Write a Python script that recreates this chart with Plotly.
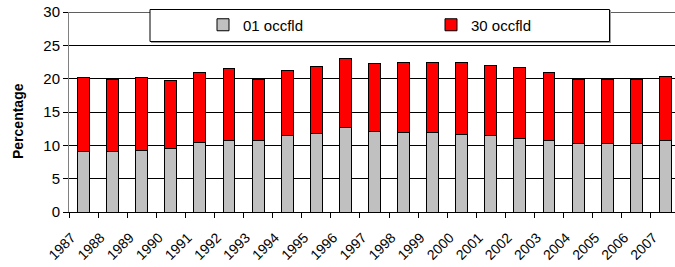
import plotly.graph_objects as go

years = [str(y) for y in range(1987, 2008)]
occ01 = [9.1, 9.1, 9.25, 9.55, 10.45, 10.7, 10.8, 11.45, 11.8, 12.7, 12.05,
         11.95, 11.95, 11.65, 11.45, 11.05, 10.7, 10.35, 10.25, 10.35, 10.7]
total = [20.2, 19.95, 20.2, 19.8, 20.95, 21.6, 19.85, 21.25, 21.85, 23.0, 22.35,
         22.5, 22.5, 22.4, 21.95, 21.65, 20.95, 19.95, 19.95, 19.85, 20.4]
occ30 = [round(t - g, 2) for t, g in zip(total, occ01)]

FONT = "Arial, Liberation Sans, sans-serif"
L, T, B, R = 69, 12, 55, 0
PW, PH = 675 - L - R, 267 - T - B


def px_x(w):
    return (w - L) / PW


def px_y(w):
    return (267 - B - w) / PH


fig = go.Figure()
fig.add_trace(go.Bar(x=years, y=occ01, name="01 occfld", legend="legend",
                     marker=dict(color="#C0C0C0", line=dict(color="#000000", width=1)),
                     width=0.41))
fig.add_trace(go.Bar(x=years, y=occ30, name="30 occfld", legend="legend2",
                     marker=dict(color="#FF0000", line=dict(color="#000000", width=1)),
                     width=0.41))

leg_common = dict(orientation="h", xanchor="left", yanchor="middle",
                  bgcolor="rgba(0,0,0,0)", borderwidth=0,
                  font=dict(size=15, family=FONT, color="#000000"), itemwidth=30)

fig.update_layout(
    barmode="stack",
    width=675, height=267,
    margin=dict(l=L, r=R, t=T, b=B, autoexpand=False),
    paper_bgcolor="white", plot_bgcolor="white",
    font=dict(family=FONT, size=13, color="#000000"),
    showlegend=True,
    legend=dict(x=px_x(203), y=px_y(25), **leg_common),
    legend2=dict(x=px_x(431), y=px_y(25), **leg_common),
    shapes=[
        dict(type="line", xref="paper", yref="y", x0=0, x1=1, y0=30, y1=30,
             line=dict(color="#000000", width=1), layer="below"),
        dict(type="rect", xref="paper", yref="paper",
             x0=px_x(151), x1=px_x(611), y0=px_y(43), y1=px_y(10),
             fillcolor="#A0A0A0", line=dict(width=0), layer="above"),
        dict(type="rect", xref="paper", yref="paper",
             x0=px_x(150), x1=px_x(609.5), y0=px_y(41.5), y1=px_y(9.5),
             fillcolor="white", line=dict(color="#000000", width=1), layer="above"),
    ],
    annotations=[
        dict(text="<b>Percentage</b>", xref="paper", yref="paper",
             x=px_x(18), y=px_y(121), textangle=-90, showarrow=False,
             xanchor="center", yanchor="middle",
             font=dict(size=14, family=FONT, color="#000000")),
    ],
)

fig.update_xaxes(
    type="category", range=[-0.5, 20.33], automargin=False,
    showline=True, linecolor="#000000", linewidth=1,
    ticks="outside", tickson="boundaries", ticklen=5, tickcolor="#000000",
    tickangle=-45, tickfont=dict(size=14, family=FONT, color="#000000"),
    ticklabelshift=-12, ticklabelstandoff=11,
    showgrid=False,
)
fig.update_yaxes(
    range=[0, 30.02], dtick=5, tick0=0, automargin=False,
    showline=True, linecolor="#808080", linewidth=1,
    ticks="outside", ticklen=5, tickcolor="#000000",
    showgrid=True, gridcolor="#000000", gridwidth=1,
    zeroline=False, ticklabeloverflow="allow",
    tickfont=dict(size=15, family=FONT, color="#000000"),
)

fig.write_html("out.html",
               config={"displayModeBar": False},
               post_script="document.body.style.margin='0';document.body.style.overflow='hidden';")
